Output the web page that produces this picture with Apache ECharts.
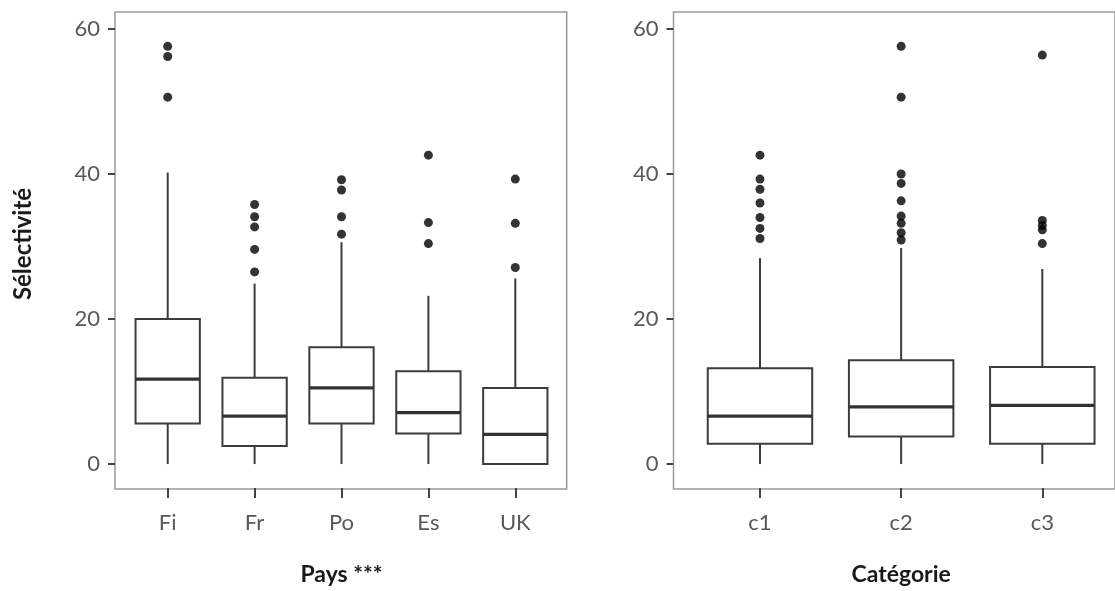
<!DOCTYPE html>
<html>
<head>
<meta charset="utf-8">
<script src="https://cdn.jsdelivr.net/npm/echarts@6/dist/echarts.min.js"></script>
<style>
html,body{margin:0;padding:0;background:#fff;}
#chart{width:1115px;height:591px;}
</style>
</head>
<body>
<div id="chart"></div>
<script>
// ---- Data ----
const yTicks = [0, 20, 40, 60];
const paysCats = ['Fi', 'Fr', 'Po', 'Es', 'UK'];
const paysLow = [0, 0, 0, 0, 0];
const paysQ1 = [5.6, 2.5, 5.6, 4.2, 0];
const paysMedian = [11.7, 6.6, 10.5, 7.1, 4.1];
const paysQ3 = [20.0, 11.9, 16.1, 12.8, 10.5];
const paysHigh = [40.2, 24.9, 30.6, 23.2, 25.6];
const paysOutliers = [
  [57.6, 56.2, 50.6],
  [35.8, 34.1, 32.7, 29.6, 26.5],
  [39.2, 37.8, 34.1, 31.7],
  [42.6, 33.3, 30.4],
  [39.3, 33.2, 27.1]
];

const catCats = ['c1', 'c2', 'c3'];
const catLow = [0, 0, 0];
const catQ1 = [2.8, 3.8, 2.8];
const catMedian = [6.6, 7.9, 8.1];
const catQ3 = [13.2, 14.3, 13.4];
const catHigh = [28.4, 29.8, 26.9];
const catOutliers = [
  [42.6, 39.3, 37.9, 36.0, 34.0, 32.5, 31.1],
  [57.6, 50.6, 40.0, 38.7, 36.3, 34.2, 33.2, 31.9, 30.9],
  [56.4, 33.6, 32.9, 32.3, 30.4]
];

// ---- Helpers ----
function boxRows(low, q1, med, q3, high) {
  return low.map((v, i) => [i, v, q1[i], med[i], q3[i], high[i]]);
}
function outlierRows(outs) {
  const rows = [];
  outs.forEach((arr, i) => arr.forEach(v => rows.push([i, v])));
  return rows;
}
const LINE = '#3c3c3c';
function renderBox(params, api) {
  const x = api.value(0);
  const pLow = api.coord([x, api.value(1)]);
  const pQ1 = api.coord([x, api.value(2)]);
  const pMed = api.coord([x, api.value(3)]);
  const pQ3 = api.coord([x, api.value(4)]);
  const pHigh = api.coord([x, api.value(5)]);
  const bw = api.size([1, 0])[0] * 0.74;
  const cx = pMed[0];
  return {type: 'group', children: [
    {type: 'line', shape: {x1: cx, y1: pLow[1], x2: cx, y2: pQ1[1]}, style: {stroke: LINE, lineWidth: 2}},
    {type: 'line', shape: {x1: cx, y1: pQ3[1], x2: cx, y2: pHigh[1]}, style: {stroke: LINE, lineWidth: 2}},
    {type: 'rect', shape: {x: cx - bw / 2, y: pQ3[1], width: bw, height: pQ1[1] - pQ3[1]}, style: {fill: '#fff', stroke: LINE, lineWidth: 2}},
    {type: 'line', shape: {x1: cx - bw / 2, y1: pMed[1], x2: cx + bw / 2, y2: pMed[1]}, style: {stroke: '#333', lineWidth: 3.2}}
  ]};
}

const FONT = 'Lato, "Open Sans", sans-serif';
const labelGray = '#585858';
// value range so that the frame extends a little above 60 and below 0
const Y_MIN = -3.3, Y_MAX = 62.34;

function frameGrid(left, right) {
  return {left: left, right: right, top: 12, bottom: 102, show: true, borderColor: '#9a9a9a', borderWidth: 1.5, backgroundColor: 'transparent'};
}
function innerGrid(left, right) {
  return {left: left, right: right, top: 12, bottom: 102};
}
function catAxis(grid, cats, name) {
  return {
    gridIndex: grid, type: 'category', data: cats,
    axisLine: {show: false, onZero: false},
    axisTick: {show: true, alignWithLabel: true, length: 10, lineStyle: {color: '#444', width: 2}},
    axisLabel: {color: labelGray, fontSize: 22, fontFamily: FONT, margin: 24},
    name: name, nameLocation: 'middle', nameGap: 75,
    nameTextStyle: {color: '#1a1a1a', fontSize: 23, fontWeight: 'bold', fontFamily: FONT}
  };
}
function valAxis(grid, off, name) {
  const a = {
    gridIndex: grid, type: 'value', min: Y_MIN, max: Y_MAX, offset: off,
    axisLine: {show: false, onZero: false},
    axisTick: {show: true, length: 7, customValues: yTicks, lineStyle: {color: '#444', width: 2}},
    splitLine: {show: false},
    axisLabel: {color: labelGray, fontSize: 22, fontFamily: FONT, margin: 15, customValues: yTicks}
  };
  if (name) {
    a.name = name; a.nameLocation = 'middle'; a.nameGap = 80; a.nameRotate = 90;
    a.nameTextStyle = {color: '#1a1a1a', fontSize: 24, fontWeight: 'bold', fontFamily: FONT, padding: [0, 0, 0, 12]};
  }
  return a;
}

const option = {
  backgroundColor: '#fff',
  animation: false,
  grid: [
    frameGrid(115, 548.3),
    innerGrid(124.25, 556.25),
    frameGrid(673.5, -14),
    innerGrid(689.4, 2.1)
  ],
  xAxis: [
    {gridIndex: 0, type: 'value', show: false},
    catAxis(1, paysCats, 'Pays ***'),
    {gridIndex: 2, type: 'value', show: false},
    catAxis(3, catCats, 'Catégorie')
  ],
  yAxis: [
    {gridIndex: 0, type: 'value', show: false},
    valAxis(1, 9.25, 'Sélectivité'),
    {gridIndex: 2, type: 'value', show: false},
    valAxis(3, 15.9, null)
  ],
  series: [
    {
      type: 'custom', xAxisIndex: 1, yAxisIndex: 1,
      renderItem: renderBox,
      encode: {x: 0, y: [1, 2, 3, 4, 5]},
      data: boxRows(paysLow, paysQ1, paysMedian, paysQ3, paysHigh)
    },
    {
      type: 'scatter', xAxisIndex: 1, yAxisIndex: 1, symbolSize: 9,
      itemStyle: {color: '#000'},
      data: outlierRows(paysOutliers)
    },
    {
      type: 'custom', xAxisIndex: 3, yAxisIndex: 3,
      renderItem: renderBox,
      encode: {x: 0, y: [1, 2, 3, 4, 5]},
      data: boxRows(catLow, catQ1, catMedian, catQ3, catHigh)
    },
    {
      type: 'scatter', xAxisIndex: 3, yAxisIndex: 3, symbolSize: 9,
      itemStyle: {color: '#000'},
      data: outlierRows(catOutliers)
    }
  ]
};

const chart = echarts.init(document.getElementById('chart'), null, {renderer: 'canvas'});
chart.setOption(option);
</script>
</body>
</html>
